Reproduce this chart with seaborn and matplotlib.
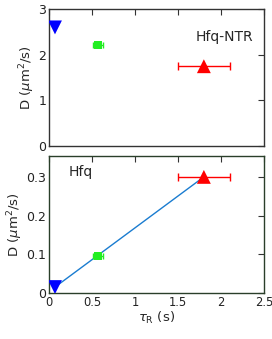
import matplotlib
matplotlib.use("Agg")
import matplotlib.pyplot as plt
import pandas as pd
import seaborn as sns

# data
tau_r = [0.07, 0.57, 1.8]
tau_err = [0.0, 0.06, 0.3]
d_ntr = [2.6, 2.22, 1.75]
d_hfq = [0.015, 0.095, 0.3]
markers = ["v", "s", "^"]
colors = ["#0000ff", "#22ee22", "#ff0000"]
groups = ["fast", "mid", "slow"]
msizes = [100, 30, 100]
caps = [0, 2.5, 3.2]

df = pd.DataFrame({"tau": tau_r, "err": tau_err, "ntr": d_ntr, "hfq": d_hfq, "grp": groups})

sns.set_style("white")
plt.rcParams["font.family"] = ["DejaVu Sans"]
plt.rcParams["mathtext.fontset"] = "dejavusans"

fig = plt.figure(figsize=(2.72, 3.39), dpi=100)
ax1 = fig.add_axes([0.180, 0.569, 0.791, 0.404])
ax2 = fig.add_axes([0.180, 0.136, 0.791, 0.405])

fs = 9


def draw_points(ax, col):
    for i, row in df.iterrows():
        if row.err > 0:
            ax.errorbar(row.tau, row[col], xerr=row.err, fmt="none", ecolor=colors[i],
                        elinewidth=1, capsize=caps[i], capthick=1, zorder=2)
    sns.scatterplot(data=df, x="tau", y=col, hue="grp", style="grp", size="grp",
                    palette=dict(zip(groups, colors)), markers=dict(zip(groups, markers)),
                    sizes=dict(zip(groups, msizes)), edgecolor="none", legend=False,
                    ax=ax, zorder=3)


# top panel: Hfq-NTR
draw_points(ax1, "ntr")
ax1.set_xlim(0, 2.5)
ax1.set_ylim(0, 3)
ax1.set_yticks([0, 1, 2, 3])
ax1.set_xticks([0, 0.5, 1, 1.5, 2, 2.5])
ax1.set_xticklabels([])
ax1.set_xlabel("")
ax1.set_ylabel(r"D ($\mu$m$^2$/s)", fontsize=fs + 0.5)
ax1.text(0.95, 0.8, "Hfq-NTR", transform=ax1.transAxes, ha="right", va="center", fontsize=fs + 1)

# bottom panel: Hfq
sns.lineplot(x=[tau_r[0], tau_r[2]], y=[d_hfq[0], d_hfq[2]], color="#1a7cd0", lw=1, ax=ax2, zorder=1)
draw_points(ax2, "hfq")
ax2.set_xlim(0, 2.5)
ax2.set_ylim(0, 0.355)
ax2.set_yticks([0, 0.1, 0.2, 0.3])
ax2.set_yticklabels(["0", "0.1", "0.2", "0.3"])
ax2.set_xticks([0, 0.5, 1, 1.5, 2, 2.5])
ax2.set_xticklabels(["0", "0.5", "1", "1.5", "2", "2.5"])
ax2.set_xlabel(r"$\tau_{\rm R}$ (s)", fontsize=fs + 0.5)
ax2.set_ylabel(r"D ($\mu$m$^2$/s)", fontsize=fs + 0.5)
ax2.text(0.09, 0.88, "Hfq", transform=ax2.transAxes, ha="left", va="center", fontsize=fs + 1)

for ax, edge in [(ax1, "#333333"), (ax2, "#2a3f2a")]:
    ax.tick_params(direction="in", top=True, right=True, length=4.5, width=0.8,
                   labelsize=fs, color="#333333", labelcolor="#222222", pad=2)
    for sp in ax.spines.values():
        sp.set_color(edge)
        sp.set_linewidth(1)
    ax.yaxis.labelpad = 1
ax2.tick_params(axis="x", labelsize=8.3)
ax2.xaxis.labelpad = 1

fig.savefig("out.png", dpi=100)
